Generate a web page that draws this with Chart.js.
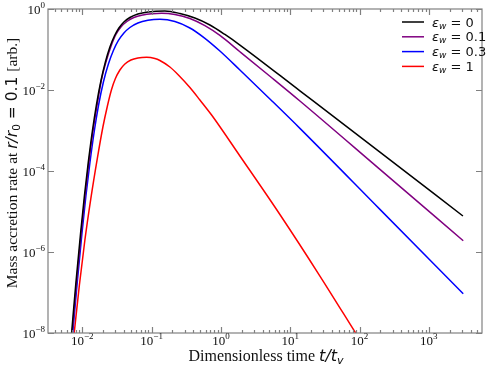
<!DOCTYPE html>
<html>
<head>
<meta charset="utf-8">
<script src="https://cdn.jsdelivr.net/npm/chart.js@4/dist/chart.umd.min.js"></script>
<style>
  body { margin: 0; background: #fff; }
  canvas { display: block; }
</style>
</head>
<body>
<canvas id="chart" width="488" height="369"></canvas>
<script>
// values (log-log axes)
const seriesLabels = ['0', '0.1', '0.3', '1'];
const seriesColors = ['#000000', '#800080', '#0000ff', '#ff0000'];

const tBlack = [7.01e-3, 8.08e-3, 9.45e-3, 1.072e-2, 1.217e-2, 1.398e-2, 1.597e-2, 1.855e-2, 2.154e-2, 2.502e-2,
    2.904e-2, 3.374e-2, 3.985e-2, 4.86e-2, 6.34e-2, 8.85e-2, 0.1555, 0.256, 0.4214, 0.694, 1.142, 1.88, 13.8, 197, 3105];
const vBlack = [1e-8, 1.72e-7, 2.94e-6, 2.41e-5, 1.58e-4, 9.72e-4, 4.26e-3, 1.67e-2, 4.91e-2, 0.115,
    0.215, 0.34, 0.478, 0.617, 0.752, 0.843, 0.892, 0.774, 0.599, 0.403, 0.235, 0.129, 9.55e-3, 2.94e-4, 7.74e-6];

const tPurple = [7.15e-3, 8.25e-3, 9.64e-3, 1.094e-2, 1.241e-2, 1.427e-2, 1.635e-2, 1.905e-2, 2.228e-2, 2.604e-2,
    3.054e-2, 3.606e-2, 4.4e-2, 5.55e-2, 7.49e-2, 0.101, 0.1394, 0.2169, 0.357, 0.5876, 0.9673, 1.88, 5.095, 13.8, 197, 3136];
const vPurple = [1e-8, 1.72e-7, 2.94e-6, 2.41e-5, 1.58e-4, 9.72e-4, 4.26e-3, 1.92e-2, 5.35e-2, 0.122,
    0.235, 0.36, 0.491, 0.617, 0.711, 0.761, 0.783, 0.731, 0.582, 0.387, 0.222, 0.0882, 0.0219, 5.35e-3, 1.096e-4, 1.9e-6];

const tBlue = [7.27e-3, 8.44e-3, 9.9e-3, 1.127e-2, 1.287e-2, 1.49e-2, 1.718e-2, 2.016e-2, 2.38e-2, 2.81e-2,
    3.32e-2, 3.985e-2, 4.86e-2, 6.34e-2, 8.85e-2, 0.1317, 0.2169, 0.357, 0.5876, 0.9673, 1.88, 5.095, 13.8, 197, 3136];
const vBlue = [1e-8, 1.72e-7, 2.94e-6, 2.41e-5, 1.58e-4, 9.72e-4, 4.26e-3, 1.58e-2, 4.39e-2, 9.45e-2,
    0.167, 0.255, 0.349, 0.451, 0.526, 0.557, 0.491, 0.34, 0.189, 0.0918, 0.0312, 6.0e-3, 1.13e-3, 1.13e-5, 9.33e-8];

const tRed = [7.64e-3, 9.08e-3, 1.09e-2, 1.331e-2, 1.651e-2, 1.983e-2, 2.303e-2, 2.63e-2, 3.004e-2, 3.488e-2,
    4.118e-2, 5.03e-2, 6.34e-2, 8.47e-2, 0.1116, 0.1317, 0.1837, 0.2436, 0.357, 0.4977, 0.734, 1.88, 7.1, 26.83, 87.8];
const vRed = [1e-8, 1.53e-7, 1.98e-6, 2.15e-5, 2.09e-4, 1.22e-3, 4.03e-3, 1.0e-2, 1.92e-2, 3.12e-2,
    4.39e-2, 5.5e-2, 6.17e-2, 6.42e-2, 6.0e-2, 5.35e-2, 3.7e-2, 2.35e-2, 1.15e-2, 5.66e-3, 2.41e-3, 2.35e-4, 8.43e-6, 2.55e-7, 1e-8];

const xDecades = [-2, -1, 0, 1, 2, 3];
const yDecades = [-8, -6, -4, -2, 0];

function points(ts, vs) {
    return ts.map((t, i) => ({ x: t, y: vs[i] }));
}

const allT = [tBlack, tPurple, tBlue, tRed];
const allV = [vBlack, vPurple, vBlue, vRed];

const serif = '"Liberation Serif", "Times New Roman", serif';
const sans = '"DejaVu Sans", sans-serif';

/**
 * Draws a run of text pieces with their own fonts and vertical shifts.
 */
function drawRich(ctx, segs, x, y, align) {
    let total = 0;
    segs.forEach(s => { ctx.font = s.f; s.w = ctx.measureText(s.t).width; total += s.w; });
    let cx = align === 'center' ? x - total / 2 : align === 'right' ? x - total : x;
    ctx.textAlign = 'left';
    segs.forEach(s => {
        ctx.font = s.f;
        ctx.fillText(s.t, cx, y + (s.dy || 0));
        cx += s.w;
    });
}

function powLabel(e) {
    return String(e).replace('-', '\u2212');
}

const decorations = {
    id: 'decorations',
    afterDraw(chart) {
        const ctx = chart.ctx;
        const a = chart.chartArea;
        const xs = chart.scales.x, ys = chart.scales.y;
        ctx.save();
        ctx.strokeStyle = '#808080';
        ctx.lineWidth = 1.2;
        ctx.strokeRect(a.left, a.top, a.right - a.left, a.bottom - a.top);

        // inward ticks
        ctx.beginPath();
        for (let e = -3; e <= 3; e++) {
            for (let m = 1; m <= 9; m++) {
                const v = m * Math.pow(10, e);
                if (v < xs.min || v > xs.max) continue;
                const px = Math.round(xs.getPixelForValue(v)) + 0.5;
                const len = m === 1 ? 6 : 3;
                ctx.moveTo(px, a.bottom); ctx.lineTo(px, a.bottom - len);
                ctx.moveTo(px, a.top); ctx.lineTo(px, a.top + len);
            }
        }
        yDecades.forEach(e => {
            const py = Math.round(ys.getPixelForValue(Math.pow(10, e))) + 0.5;
            ctx.moveTo(a.left, py); ctx.lineTo(a.left + 6, py);
            ctx.moveTo(a.right, py); ctx.lineTo(a.right - 6, py);
        });
        ctx.stroke();

        // tick labels
        ctx.fillStyle = '#111';
        ctx.textBaseline = 'alphabetic';
        xDecades.forEach(e => {
            const px = xs.getPixelForValue(Math.pow(10, e));
            drawRich(ctx, [
                { t: '10', f: '13px ' + serif },
                { t: powLabel(e), f: '9px ' + serif, dy: -6 }
            ], px, 345, 'center');
        });
        yDecades.forEach(e => {
            const py = ys.getPixelForValue(Math.pow(10, e));
            drawRich(ctx, [
                { t: '10', f: '13px ' + serif },
                { t: powLabel(e), f: '9px ' + serif, dy: -6 }
            ], a.left - 3, py + 4.5, 'right');
        });

        // axis titles
        drawRich(ctx, [
            { t: 'Dimensionless time ', f: '16px ' + serif },
            { t: 't/t', f: 'italic 16px ' + sans },
            { t: 'v', f: 'italic 11px ' + sans, dy: 3 }
        ], 266, 361, 'center');

        ctx.save();
        ctx.translate(17, 163);
        ctx.rotate(-Math.PI / 2);
        drawRich(ctx, [
            { t: 'Mass accretion rate at ', f: '15.5px ' + serif },
            { t: 'r/r', f: 'italic 15.5px ' + sans },
            { t: '0', f: '10.5px ' + sans, dy: 3 },
            { t: ' = 0.1 ', f: '15.5px ' + sans },
            { t: '[arb.]', f: '15.5px ' + serif }
        ], 0, 0, 'center');
        ctx.restore();

        // legend
        seriesLabels.forEach((lab, i) => {
            const ly = a.top + 13 + i * 14.8;
            ctx.strokeStyle = seriesColors[i];
            ctx.lineWidth = 1.5;
            ctx.beginPath();
            ctx.moveTo(402, ly); ctx.lineTo(424, ly);
            ctx.stroke();
            ctx.fillStyle = '#111';
            drawRich(ctx, [
                { t: '\u03b5', f: 'italic 13px ' + sans },
                { t: 'w', f: 'italic 9px ' + sans, dy: 2 },
                { t: ' = ' + lab, f: '13px ' + sans }
            ], 432, ly + 4.5, 'left');
        });
        ctx.restore();
    }
};

const ctx = document.getElementById('chart').getContext('2d');
const chart = new Chart(ctx, {
    type: 'line',
    data: {
        datasets: seriesLabels.map((lab, i) => ({
            label: '\u03b5w = ' + lab,
            data: points(allT[i], allV[i]),
            borderColor: seriesColors[i],
            borderWidth: 1.5,
            pointRadius: 0,
            cubicInterpolationMode: 'monotone',
            fill: false
        }))
    },
    options: {
        responsive: false,
        animation: false,
        layout: { padding: { top: 9, right: 6, left: 0, bottom: 0 } },
        plugins: { legend: { display: false }, tooltip: { enabled: false } },
        scales: {
            x: {
                type: 'logarithmic',
                min: 3.2e-3,
                max: 5850,
                grid: { display: false },
                border: { display: false },
                ticks: { display: false },
                afterFit: (s) => { s.height = 36; }
            },
            y: {
                type: 'logarithmic',
                min: 1e-8,
                max: 1,
                grid: { display: false },
                border: { display: false },
                ticks: { display: false },
                afterFit: (s) => { s.width = 48; }
            }
        }
    },
    plugins: [decorations]
});
</script>
</body>
</html>
